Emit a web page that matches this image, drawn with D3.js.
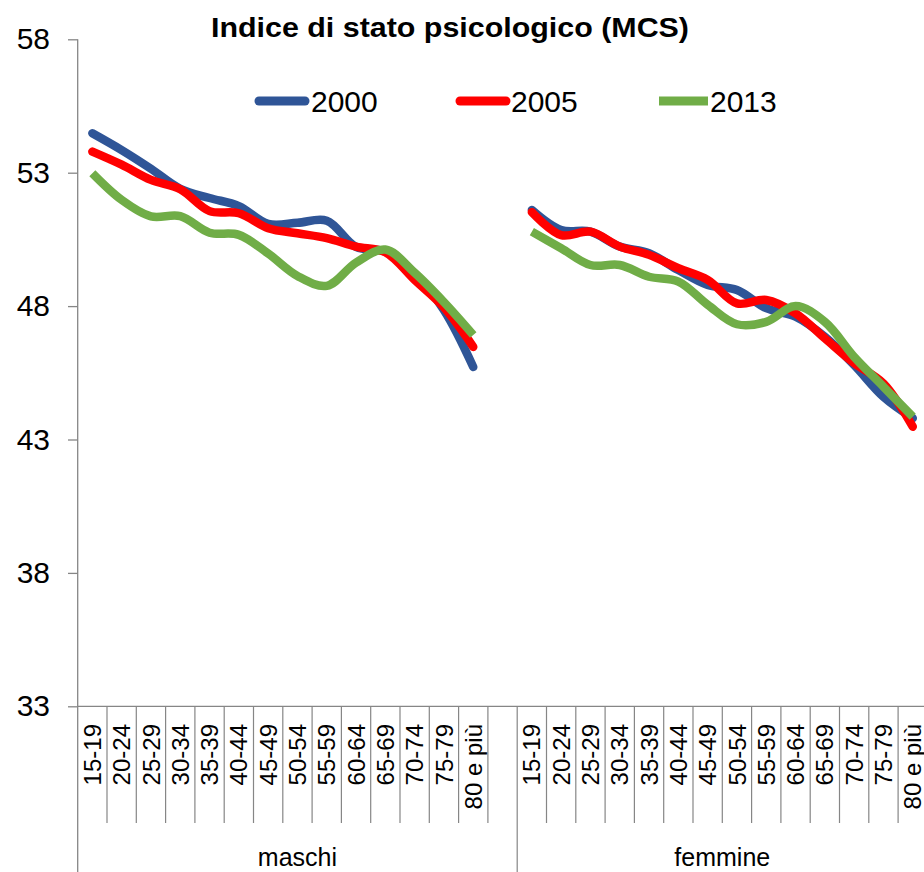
<!DOCTYPE html>
<html>
<head>
<meta charset="utf-8">
<script src="https://cdn.jsdelivr.net/npm/d3@7"></script>
<style>
  html, body { margin: 0; padding: 0; background: #fff; }
  svg { display: block; font-family: "Liberation Sans", Arial, sans-serif; }
</style>
</head>
<body>
<svg id="chart" width="924" height="872"></svg>
<script>
// Age groups shown for each sex
const ageGroups = ["15-19","20-24","25-29","30-34","35-39","40-44","45-49",
                   "50-54","55-59","60-64","65-69","70-74","75-79","80 e più"];
const groups = ["maschi", "femmine"];
const years = ["2000", "2005", "2013"];

// MCS index by age group — males
const maschi2000 = [54.48, 53.85, 53.15, 52.4, 52.05, 51.75, 51.08, 51.12, 51.2, 50.22, 50.04, 49.22, 47.85, 45.72];
const maschi2005 = [53.79, 53.3, 52.73, 52.38, 51.56, 51.48, 50.92, 50.73, 50.55, 50.23, 50.02, 48.98, 47.95, 46.47];
const maschi2013 = [52.98, 51.98, 51.36, 51.37, 50.75, 50.67, 49.97, 49.13, 48.76, 49.63, 50.12, 49.25, 48.15, 46.92];

// MCS index by age group — females
const femmine2000 = [51.6, 50.85, 50.79, 50.23, 49.98, 49.35, 48.79, 48.6, 47.92, 47.6, 46.85, 45.79, 44.6, 43.8];
const femmine2005 = [51.52, 50.66, 50.79, 50.23, 49.92, 49.42, 48.98, 48.1, 48.23, 47.73, 46.79, 45.86, 45.1, 43.48];
const femmine2013 = [50.79, 50.17, 49.54, 49.54, 49.1, 48.92, 48.05, 47.32, 47.41, 48.0, 47.41, 46.1, 44.98, 43.85];

const yTicks = [33, 38, 43, 48, 53, 58];

const colors = { "2000": "#2F5597", "2005": "#FF0000", "2013": "#70AD47" };
const caps   = { "2000": "round", "2005": "round", "2013": "butt" };
const axisColor = "#868686";

// One flat category list: males, an empty slot, then females
const cats = [];
ageGroups.forEach((a, i) => cats.push({ key: "m" + i, label: a, group: 0 }));
cats.push({ key: "gap", label: "", group: 0 });
ageGroups.forEach((a, i) => cats.push({ key: "f" + i, label: a, group: 1 }));

const seriesData = {
  "2000": [...maschi2000, null, ...femmine2000],
  "2005": [...maschi2005, null, ...femmine2005],
  "2013": [...maschi2013, null, ...femmine2013]
};

const svg = d3.select("#chart");

const plotLeft = 77.7, plotRight = 927.4, plotTop = 39.3, plotBottom = 706.3;

const x = d3.scaleBand().domain(cats.map(c => c.key)).range([plotLeft, plotRight]).padding(0);
const y = d3.scaleLinear().domain([33, 58]).range([plotBottom, plotTop]);

// Title
svg.append("text")
  .attr("x", 211).attr("y", 37)
  .attr("textLength", 478).attr("lengthAdjust", "spacingAndGlyphs")
  .attr("font-size", 27).attr("font-weight", "bold").attr("fill", "#000")
  .text("Indice di stato psicologico (MCS)");

// Y axis
const yAxis = d3.axisLeft(y).tickValues(yTicks).tickSize(9.7).tickPadding(18).tickFormat(d3.format("d"));
const gy = svg.append("g").attr("transform", `translate(${plotLeft},0)`).call(yAxis);
gy.select(".domain").remove();
gy.selectAll(".tick line").attr("stroke", axisColor).attr("stroke-width", 1.3);
gy.selectAll(".tick text").attr("font-size", 30).attr("fill", "#000")
  .attr("font-family", "Liberation Sans, Arial, sans-serif");
svg.append("line").attr("x1", plotLeft).attr("x2", plotLeft).attr("y1", plotTop).attr("y2", 872)
  .attr("stroke", axisColor).attr("stroke-width", 1.3);

// X axis line
svg.append("line").attr("x1", plotLeft).attr("x2", 924).attr("y1", plotBottom).attr("y2", plotBottom)
  .attr("stroke", axisColor).attr("stroke-width", 1.3);

// Category separators (short) and group separators (long)
cats.forEach((c, i) => {
  if (i === 0) return;
  const bx = x(c.key);
  const isGroupEdge = cats[i - 1].group !== c.group;
  svg.append("line").attr("x1", bx).attr("x2", bx)
    .attr("y1", plotBottom).attr("y2", isGroupEdge ? 872 : 823)
    .attr("stroke", axisColor).attr("stroke-width", 1.2);
});
svg.append("line").attr("x1", plotRight).attr("x2", plotRight).attr("y1", plotBottom).attr("y2", 823)
  .attr("stroke", axisColor).attr("stroke-width", 1.2);

// Rotated age labels
svg.append("g").selectAll("text")
  .data(cats.filter(c => c.label))
  .join("text")
  .attr("transform", d => `translate(${x(d.key) + x.bandwidth() / 2},724) rotate(-90)`)
  .attr("text-anchor", "end")
  .attr("dy", "0.36em")
  .attr("font-size", 24)
  .attr("fill", "#000")
  .text(d => d.label);

// Group labels
groups.forEach((g, gi) => {
  const members = cats.filter(c => c.group === gi);
  const x0 = x(members[0].key);
  const x1 = x(members[members.length - 1].key) + x.bandwidth();
  svg.append("text")
    .attr("x", (x0 + x1) / 2).attr("y", 866)
    .attr("text-anchor", "middle").attr("font-size", 25).attr("fill", "#000")
    .text(g);
});

// Smoothed series lines
const line = d3.line()
  .defined(d => d.v != null)
  .x(d => x(d.key) + x.bandwidth() / 2)
  .y(d => y(d.v))
  .curve(d3.curveCatmullRom.alpha(0.5));

years.forEach(yr => {
  const pts = cats.map((c, i) => ({ key: c.key, v: seriesData[yr][i] }));
  svg.append("path")
    .datum(pts)
    .attr("d", line)
    .attr("fill", "none")
    .attr("stroke", colors[yr])
    .attr("stroke-width", 8.5)
    .attr("stroke-linecap", caps[yr])
    .attr("stroke-linejoin", "round");
});

// Legend
const legendPos = { "2000": [259, 305, 311], "2005": [460, 506, 511], "2013": [659, 708, 710] };
years.forEach(yr => {
  const [lx0, lx1, tx] = legendPos[yr];
  svg.append("line").attr("x1", lx0).attr("x2", lx1).attr("y1", 101).attr("y2", 101)
    .attr("stroke", colors[yr]).attr("stroke-width", 9).attr("stroke-linecap", caps[yr]);
  svg.append("text").attr("x", tx).attr("y", 112)
    .attr("font-size", 30).attr("fill", "#000").text(yr);
});
</script>
</body>
</html>
